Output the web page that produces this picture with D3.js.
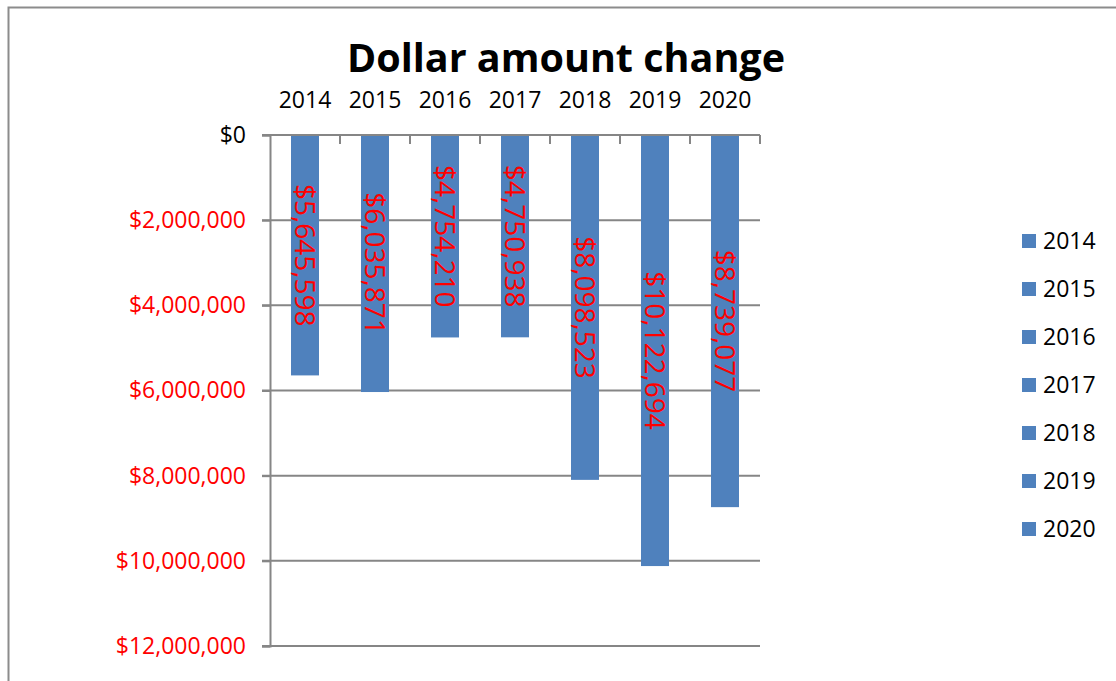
<!DOCTYPE html>
<html>
<head>
<meta charset="utf-8">
<script src="https://cdn.jsdelivr.net/npm/d3@7"></script>
<style>
  body { margin: 0; background: #fff; }
  svg { display: block; font-family: "Open Sans", sans-serif; }
</style>
</head>
<body>
<script>
const years = ['2014', '2015', '2016', '2017', '2018', '2019', '2020']
const amounts = [5645598, 6035871, 4754210, 4750938, 8098523, 10122694, 8739077]
const yTicks = [0, 2000000, 4000000, 6000000, 8000000, 10000000, 12000000]

const W = 1116, H = 681
const plot = {left: 270, right: 760, top: 135, bottom: 646}
const barColor = '#4F81BD'
const gridColor = '#868686'

const svg = d3.select('body').append('svg')
  .attr('width', W)
  .attr('height', H)

// chart area frame (cut off at the right and bottom)
svg.append('rect')
  .attr('x', 8.5).attr('y', 7.5)
  .attr('width', 1200).attr('height', 800)
  .attr('fill', '#fff')
  .attr('stroke', '#8c8c8c')
  .attr('stroke-width', 2)

svg.append('text')
  .attr('x', 566).attr('y', 72)
  .attr('text-anchor', 'middle')
  .style('font-size', '39.5px')
  .style('font-weight', 'bold')
  .text('Dollar amount change')

const x = d3.scaleBand()
  .domain(years)
  .range([plot.left, plot.right])
  .paddingInner(0.6)
  .paddingOuter(0.3)

// reversed value axis: 0 at the top
const y = d3.scaleLinear()
  .domain([0, 12000000])
  .range([plot.top, plot.bottom])

const fmt = d3.format('$,')

// gridlines
svg.append('g')
  .selectAll('line')
  .data(yTicks.slice(1))
  .join('line')
  .attr('x1', plot.left - 8).attr('x2', plot.right)
  .attr('y1', d => y(d)).attr('y2', d => y(d))
  .attr('stroke', gridColor)
  .attr('stroke-width', 2)

// value axis
const yAxis = svg.append('g')
  .attr('transform', `translate(${plot.left},0)`)
  .call(d3.axisLeft(y).tickValues(yTicks).tickSize(8).tickPadding(16).tickFormat(fmt))
  .attr('font-family', null)
  .attr('font-size', null)
yAxis.select('.domain').attr('stroke', gridColor).attr('stroke-width', 2)
yAxis.selectAll('.tick line').attr('stroke', gridColor).attr('stroke-width', 2)
yAxis.selectAll('.tick text')
  .style('font-size', '23px')
  .attr('fill', d => d === 0 ? '#000' : '#FF0000')

// bars
svg.append('g')
  .selectAll('rect')
  .data(years)
  .join('rect')
  .attr('x', d => x(d))
  .attr('y', y(0))
  .attr('width', x.bandwidth())
  .attr('height', (d, i) => y(amounts[i]) - y(0))
  .attr('fill', barColor)

// category axis on top
const xAxis = svg.append('g')
  .attr('transform', `translate(0,${plot.top})`)
  .call(d3.axisTop(x).tickSize(0).tickPadding(27))
  .attr('font-family', null)
  .attr('font-size', null)
xAxis.select('.domain').remove()
xAxis.selectAll('.tick text')
  .style('font-size', '23px')
  .attr('fill', '#000')

svg.append('line')
  .attr('x1', plot.left - 8).attr('x2', plot.right)
  .attr('y1', plot.top).attr('y2', plot.top)
  .attr('stroke', gridColor).attr('stroke-width', 2)

const edgeOffset = (x.step() - x.bandwidth()) / 2
const boundaries = years.map(d => x(d) - edgeOffset).concat([plot.right])
svg.append('g')
  .selectAll('line')
  .data(boundaries.slice(1))
  .join('line')
  .attr('x1', d => d).attr('x2', d => d)
  .attr('y1', plot.top).attr('y2', plot.top + 9)
  .attr('stroke', gridColor).attr('stroke-width', 2)

// data labels, rotated, centred in each bar
svg.append('g')
  .selectAll('text')
  .data(years)
  .join('text')
  .attr('transform', (d, i) => {
    const cx = x(d) + x.bandwidth() / 2
    const cy = (y(0) + y(amounts[i])) / 2
    return `translate(${cx},${cy}) rotate(90)`
  })
  .attr('text-anchor', 'middle')
  .attr('dy', '0.35em')
  .attr('fill', '#FF0000')
  .style('font-size', '28px')
  .text((d, i) => fmt(amounts[i]))

// legend
const legend = svg.append('g')
  .selectAll('g')
  .data(years)
  .join('g')
  .attr('transform', (d, i) => `translate(1022,${234 + i * 48})`)
legend.append('rect')
  .attr('width', 14).attr('height', 14)
  .attr('fill', barColor)
legend.append('text')
  .attr('x', 21).attr('y', 7)
  .attr('dy', '0.35em')
  .style('font-size', '23px')
  .text(d => d)
</script>
</body>
</html>
